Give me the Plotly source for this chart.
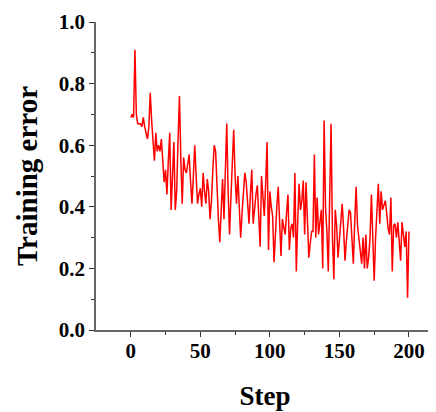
import plotly.graph_objects as go

steps = list(range(0, 201))
training_error = [
    0.69, 0.70, 0.69, 0.91, 0.70, 0.67, 0.67, 0.67, 0.66, 0.69, 0.66,
    0.64, 0.62, 0.66, 0.77, 0.68, 0.60, 0.55, 0.64, 0.58, 0.60,
    0.58, 0.62, 0.55, 0.48, 0.52, 0.44, 0.55, 0.64, 0.39, 0.50,
    0.61, 0.39, 0.45, 0.62, 0.76, 0.55, 0.41, 0.56, 0.52, 0.51,
    0.54, 0.57, 0.48, 0.41, 0.50, 0.60, 0.50, 0.41, 0.44, 0.46,
    0.40, 0.51, 0.45, 0.41, 0.49, 0.45, 0.36, 0.42, 0.52, 0.60,
    0.58, 0.45, 0.36, 0.285, 0.38, 0.49, 0.36, 0.50, 0.67, 0.45,
    0.31, 0.43, 0.55, 0.65, 0.50, 0.41, 0.50, 0.40, 0.30, 0.38,
    0.45, 0.51, 0.48, 0.40, 0.345, 0.44, 0.52, 0.345, 0.40, 0.44,
    0.47, 0.38, 0.27, 0.50, 0.42, 0.37, 0.48, 0.61, 0.26, 0.45,
    0.40, 0.37, 0.22, 0.33, 0.40, 0.465, 0.33, 0.24, 0.36, 0.33,
    0.31, 0.38, 0.44, 0.26, 0.33, 0.345, 0.30, 0.51, 0.19, 0.35,
    0.475, 0.39, 0.42, 0.485, 0.31, 0.48, 0.33, 0.235, 0.28, 0.32,
    0.32, 0.57, 0.30, 0.43, 0.31, 0.36, 0.39, 0.20, 0.68, 0.40,
    0.32, 0.19, 0.45, 0.67, 0.30, 0.165, 0.39, 0.34, 0.235, 0.30,
    0.36, 0.41, 0.33, 0.225, 0.29, 0.35, 0.39, 0.38, 0.30, 0.215,
    0.35, 0.465, 0.34, 0.30, 0.26, 0.215, 0.30, 0.20, 0.31, 0.20,
    0.235, 0.30, 0.44, 0.28, 0.16, 0.30, 0.40, 0.475, 0.345, 0.45,
    0.39, 0.41, 0.42, 0.38, 0.33, 0.31, 0.43, 0.19, 0.34, 0.345,
    0.30, 0.35, 0.30, 0.225, 0.35, 0.30, 0.27, 0.32, 0.105, 0.32,
]
x_ticks = [0, 50, 100, 150, 200]
y_ticks = [0.0, 0.2, 0.4, 0.6, 0.8, 1.0]

font_family = "Liberation Serif"

fig = go.Figure()
fig.add_trace(go.Scatter(
    x=steps, y=training_error, mode="lines",
    line=dict(color="#ff0000", width=1.5),
    showlegend=False,
))

axis_common = dict(
    showgrid=False, zeroline=False, showline=True,
    linecolor="#666666", linewidth=1.5,
    ticks="outside", ticklen=5, tickwidth=1.2, tickcolor="#333333",
    tickfont=dict(family=font_family, size=21, color="black", weight="bold"),
    mirror=False,
)

# page body has ~8px default margin, so the figure is sized to the visible area
fig.update_layout(
    width=428, height=404,
    margin=dict(l=88, r=2, t=14, b=82),
    paper_bgcolor="white", plot_bgcolor="white",
    xaxis=dict(
        range=[-25, 218], tickvals=x_ticks, ticklabelstandoff=-4,
        minor=dict(tickvals=[25, 75, 125, 175], ticks="outside", ticklen=3, tickcolor="#333333"),
        title=dict(text="Step", font=dict(family=font_family, size=27, color="black", weight="bold"), standoff=24),
        **axis_common,
    ),
    yaxis=dict(
        range=[0, 1.0], tickvals=y_ticks, tickformat=".1f",
        minor=dict(tickvals=[0.1, 0.3, 0.5, 0.7, 0.9], ticks="outside", ticklen=3, tickcolor="#333333"),
        title=dict(text="Training error", font=dict(family=font_family, size=29, color="black", weight="bold"), standoff=13),
        **axis_common,
    ),
)

fig.write_html("out.html")
